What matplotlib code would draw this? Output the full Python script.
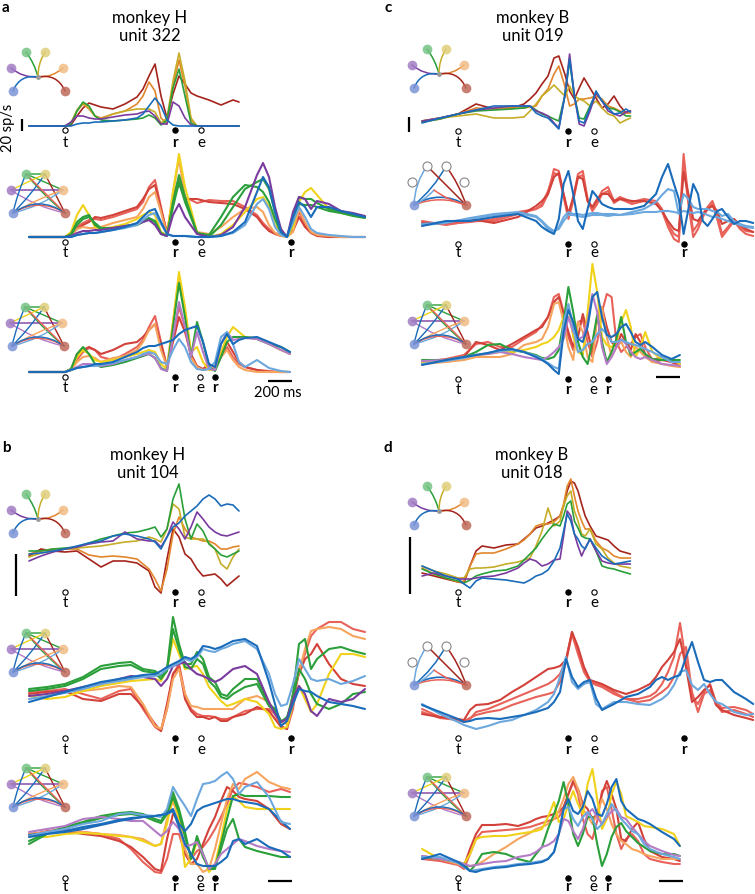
import numpy as np
import matplotlib
matplotlib.use("Agg")
import matplotlib.pyplot as plt
from matplotlib.patches import FancyArrowPatch

plt.rcParams['font.family'] = ['Lato', 'DejaVu Sans']

# ---------------- colours ----------------
DARKRED = '#a5241c'
ORANGE = '#e2862c'
OLIVE = '#c6ad27'
GREEN = '#2a9f3a'
PURPLE = '#7a3b9f'
BLUE = '#1a6cba'
SALMON = '#e8625a'
RED2 = '#d2413a'
LORANGE = '#f6a45e'
YELLOW = '#f0d21a'
LPURPLE = '#b47bc6'
LBLUE = '#6ca8de'

# ---------------- data (time in ms from target onset, rate in px-units) -------
A1_T = [-300, 0, 50, 100, 150, 200, 250, 300, 400, 500, 600, 650, 700, 750, 800, 850, 900, 950, 1000, 1050, 1100, 1200, 1300, 1400, 1450]
A1_DARKRED = [0, 0, 1, 10, 18, 23, 21, 19, 17, 22, 29, 37, 50, 62, 30, 8, 32, 50, 42, 33, 30, 26, 21, 26, 24]
A1_ORANGE = [0, 0, 3, 15, 22, 17, 10, 8, 12, 15, 22, 30, 44, 35, 8, 2, 40, 66, 40, 6, 0, 0, 0, 0, 0]
A1_OLIVE = [0, 0, 3, 16, 23, 18, 10, 7, 12, 15, 17, 17, 17, 14, 3, 8, 45, 73, 45, 8, 0, 0, 0, 0, 0]
A1_GREEN = [0, 0, 2, 15, 24, 20, 10, 6, 5, 6, 7, 8, 11, 8, 1, 6, 38, 57, 30, 3, 0, 0, 0, 0, 0]
A1_PURPLE = [0, 0, 4, 10, 10, 8, 7, 7, 9, 11, 12, 14, 15, 10, 2, 2, 24, 20, 8, 1, 0, 0, 0, 0, 0]
A1_BLUE = [0, 0, 0, 2, 3, 3, 4, 4, 5, 6, 8, 12, 20, 28, 20, 6, 1, 0, 0, 0, 0, 0, 0, 0, 0]

A2_T = [-300, 0, 50, 100, 150, 200, 250, 300, 400, 500, 600, 650, 700, 750, 800, 850, 900, 950, 1000, 1100, 1200, 1300, 1400, 1500, 1600, 1650, 1700, 1750, 1800, 1850, 1900, 1950, 2000, 2050, 2100, 2200, 2300, 2400, 2500]
A2_SALMON = [0, 0, 3, 10, 14, 17, 18, 17, 20, 24, 28, 35, 50, 57, 30, 3, 40, 58, 40, 34, 37, 36, 36, 30, 22, 14, 8, 4, 2, 1, 8, 25, 12, 5, 2, 0, 0, 0, 0]
A2_RED2 = [0, 0, 2, 8, 12, 15, 20, 19, 22, 26, 30, 38, 48, 52, 28, 4, 36, 54, 38, 38, 35, 34, 33, 28, 20, 12, 6, 3, 1, 1, 6, 20, 10, 4, 1, 0, 0, 0, 0]
A2_LORANGE = [0, 0, 2, 8, 10, 9, 9, 10, 14, 17, 20, 28, 40, 45, 25, 2, 45, 78, 40, 5, 3, 10, 20, 28, 30, 25, 12, 4, 1, 0, 5, 28, 15, 5, 2, 1, 0, 0, 0]
A2_YELLOW = [0, 0, 5, 22, 32, 22, 10, 8, 10, 13, 18, 22, 25, 22, 5, 2, 45, 83, 50, 5, 0, 3, 12, 25, 38, 40, 30, 12, 3, 0, 10, 35, 45, 49, 42, 28, 24, 22, 20]
A2_GREEN = [0, 0, 3, 15, 20, 22, 12, 8, 8, 10, 12, 15, 18, 15, 3, 1, 35, 62, 40, 4, 0, 12, 30, 48, 55, 58, 48, 25, 5, 0, 20, 40, 38, 38, 34, 28, 25, 22, 20]
A2_GREEN2 = [0, 0, 2, 12, 18, 20, 14, 9, 9, 11, 13, 16, 19, 16, 4, 1, 30, 55, 35, 4, 2, 20, 40, 52, 50, 45, 35, 18, 4, 0, 15, 33, 32, 32, 30, 26, 24, 21, 19]
A2_PURPLE = [0, 0, 1, 4, 6, 6, 7, 7, 9, 11, 13, 15, 17, 12, 3, 1, 22, 33, 20, 3, 0, 2, 10, 30, 62, 74, 60, 30, 8, 0, 25, 40, 38, 28, 36, 33, 26, 24, 21]
A2_BLUE = [0, 0, 0, 2, 3, 4, 4, 5, 7, 10, 14, 20, 26, 28, 15, 3, 1, 1, 1, 0, 0, 1, 5, 15, 45, 60, 50, 25, 5, 0, 20, 35, 30, 20, 30, 30, 26, 23, 20]
A2_LBLUE = [0, 0, 0, 2, 3, 4, 4, 5, 7, 9, 12, 17, 22, 24, 13, 3, 1, 1, 1, 0, 0, 1, 4, 12, 33, 38, 28, 10, 2, 0, 15, 30, 20, 8, 4, 2, 1, 0, 0]

A3_T = [-300, 0, 50, 100, 150, 200, 250, 300, 400, 500, 600, 650, 700, 750, 800, 850, 900, 950, 1000, 1050, 1100, 1150, 1200, 1250, 1300, 1350, 1400, 1450, 1500, 1600, 1700, 1800, 1875]
A3_SALMON = [0, 0, 3, 12, 20, 24, 22, 15, 12, 18, 25, 32, 45, 56, 30, 5, 35, 65, 45, 15, 5, 2, 6, 3, 15, 25, 15, 8, 5, 2, 1, 0, 0]
A3_DARKRED = [0, 0, 2, 18, 22, 25, 22, 18, 22, 28, 30, 35, 42, 48, 28, 5, 30, 55, 40, 18, 6, 3, 8, 4, 18, 30, 20, 10, 5, 2, 0, 0, 0]
A3_LORANGE = [0, 0, 2, 10, 15, 16, 14, 10, 14, 16, 22, 30, 42, 48, 22, 5, 50, 95, 60, 15, 5, 2, 3, 5, 15, 22, 12, 5, 2, 0, 0, 0, 0]
A3_YELLOW = [0, 0, 3, 15, 22, 18, 12, 10, 12, 15, 18, 20, 22, 20, 8, 3, 50, 100, 65, 20, 25, 10, 2, 2, 20, 35, 45, 40, 35, 34, 28, 22, 18]
A3_GREEN = [0, 0, 3, 18, 25, 18, 8, 5, 7, 10, 14, 16, 18, 14, 4, 1, 45, 89, 55, 15, 50, 30, 5, 1, 15, 30, 35, 35, 35, 33, 28, 25, 20]
A3_LPURPLE = [0, 0, 2, 5, 8, 8, 7, 6, 8, 12, 15, 17, 18, 14, 3, 1, 35, 70, 45, 15, 40, 20, 3, 2, 28, 40, 32, 33, 34, 33, 28, 22, 18]
A3_BLUE = [0, 0, 2, 4, 5, 6, 8, 8, 10, 15, 20, 24, 26, 26, 28, 30, 32, 38, 42, 44, 46, 30, 8, 5, 28, 38, 28, 32, 34, 35, 30, 25, 20]
A3_LBLUE = [0, 0, 2, 4, 5, 6, 6, 7, 9, 12, 15, 18, 20, 18, 10, 8, 22, 33, 25, 10, 3, 2, 3, 10, 35, 40, 28, 10, 5, 12, 4, 1, 0]

B1_T = [-300, -200, -100, 0, 100, 200, 300, 400, 500, 600, 700, 750, 800, 850, 900, 950, 1000, 1050, 1100, 1150, 1200, 1250, 1300, 1350, 1400, 1450]
B1_GREEN = [48, 48, 50, 51, 52, 56, 60, 63, 66, 67, 70, 72, 62, 70, 100, 115, 80, 60, 75, 68, 55, 50, 44, 42, 45, 48]
B1_OLIVE = [42, 46, 48, 50, 51, 52, 53, 55, 57, 58, 62, 60, 57, 70, 95, 90, 62, 60, 60, 60, 56, 50, 35, 30, 42, 50]
B1_ORANGE = [45, 48, 50, 50, 50, 44, 42, 43, 42, 40, 30, 20, 8, 30, 65, 82, 70, 62, 60, 58, 58, 55, 50, 50, 52, 53]
B1_DARKRED = [43, 50, 48, 47, 48, 40, 32, 38, 38, 36, 28, 12, 6, 40, 70, 62, 45, 40, 30, 23, 24, 25, 20, 13, 18, 23]
B1_PURPLE = [38, 43, 47, 50, 52, 55, 57, 58, 67, 60, 58, 58, 52, 62, 77, 70, 60, 72, 87, 80, 72, 67, 64, 63, 65, 67]
B1_BLUE = [45, 46, 48, 50, 53, 56, 58, 63, 65, 63, 60, 57, 50, 62, 72, 76, 83, 88, 93, 100, 104, 100, 93, 95, 94, 88]

B2_T = [-300, -150, 0, 150, 300, 450, 550, 650, 750, 800, 850, 900, 950, 1000, 1050, 1100, 1150, 1200, 1250, 1300, 1350, 1400, 1500, 1600, 1700, 1750, 1800, 1850, 1900, 1950, 2000, 2050, 2100, 2200, 2300, 2400, 2500]
B2_GREEN = [50, 52, 55, 62, 73, 76, 77, 70, 68, 63, 70, 122, 95, 75, 75, 87, 80, 62, 57, 45, 43, 50, 60, 60, 35, 30, 18, 20, 45, 95, 100, 70, 80, 90, 92, 88, 85]
B2_GREEN2 = [48, 50, 53, 60, 70, 73, 74, 68, 66, 60, 68, 110, 90, 72, 70, 80, 75, 58, 52, 42, 40, 45, 52, 55, 33, 28, 17, 22, 40, 70, 60, 45, 35, 30, 35, 45, 47]
B2_YELLOW = [43, 40, 42, 48, 53, 56, 58, 59, 60, 58, 70, 100, 85, 70, 72, 73, 65, 52, 45, 38, 33, 35, 40, 37, 25, 12, 10, 12, 35, 53, 40, 27, 35, 65, 85, 85, 82]
B2_SALMON = [47, 48, 50, 45, 40, 48, 50, 30, 12, 8, 30, 65, 75, 45, 30, 25, 23, 23, 22, 20, 20, 22, 28, 30, 30, 25, 13, 10, 30, 70, 85, 103, 110, 117, 117, 110, 107]
B2_DARKRED = [45, 47, 48, 40, 38, 45, 45, 32, 15, 8, 35, 65, 72, 40, 28, 22, 22, 20, 22, 18, 18, 22, 25, 32, 28, 20, 12, 10, 45, 65, 80, 85, 95, 75, 60, 55, 53]
B2_LORANGE = [43, 45, 47, 48, 50, 53, 52, 35, 13, 10, 30, 60, 70, 45, 33, 32, 30, 30, 30, 30, 30, 30, 40, 43, 37, 25, 17, 15, 45, 67, 90, 108, 110, 112, 110, 103, 100]
B2_PURPLE = [43, 45, 48, 52, 55, 60, 63, 62, 60, 53, 60, 73, 75, 77, 70, 65, 63, 60, 57, 60, 65, 70, 73, 65, 37, 25, 17, 20, 40, 53, 45, 28, 23, 40, 37, 40, 50]
B2_BLUE = [37, 42, 47, 52, 57, 60, 62, 64, 65, 68, 72, 75, 78, 82, 80, 84, 93, 92, 90, 92, 95, 98, 100, 93, 57, 35, 13, 18, 35, 50, 48, 47, 43, 37, 35, 33, 30]
B2_LBLUE = [40, 43, 46, 50, 55, 58, 60, 62, 63, 65, 70, 73, 76, 80, 78, 82, 90, 88, 87, 90, 92, 95, 98, 90, 65, 45, 33, 35, 55, 80, 70, 60, 58, 60, 55, 58, 63]

B3_T = [-300, -150, 0, 150, 300, 450, 550, 650, 750, 800, 850, 900, 950, 1000, 1050, 1100, 1150, 1200, 1250, 1300, 1350, 1400, 1450, 1500, 1600, 1700, 1800, 1875]
B3_LBLUE = [43, 47, 50, 55, 58, 65, 66, 64, 63, 62, 70, 92, 82, 73, 63, 80, 95, 96, 98, 103, 107, 100, 85, 92, 97, 82, 57, 55]
B3_BLUE = [42, 45, 47, 50, 54, 58, 60, 62, 63, 64, 65, 68, 52, 35, 25, 15, 13, 13, 13, 17, 22, 38, 40, 35, 40, 32, 28, 22]
B3_BLUE2 = [44, 46, 48, 52, 55, 59, 61, 62, 63, 64, 66, 70, 55, 48, 55, 68, 72, 74, 76, 78, 80, 80, 78, 77, 75, 70, 58, 50]
B3_SALMON = [43, 48, 50, 47, 45, 40, 30, 17, 7, 6, 20, 45, 45, 25, 20, 28, 32, 40, 50, 62, 75, 90, 96, 95, 92, 87, 90, 87]
B3_DARKRED = [45, 47, 48, 45, 43, 38, 32, 22, 10, 8, 40, 65, 60, 25, 15, 20, 35, 50, 62, 78, 92, 88, 82, 80, 78, 70, 55, 50]
B3_LORANGE = [45, 47, 48, 47, 45, 44, 42, 40, 33, 35, 60, 78, 60, 30, 15, 15, 7, 10, 30, 55, 80, 95, 90, 100, 107, 97, 92, 90]
B3_YELLOW = [43, 42, 45, 46, 45, 43, 42, 38, 33, 35, 55, 83, 60, 12, 20, 37, 25, 7, 15, 40, 70, 83, 78, 72, 70, 70, 70, 70]
B3_GREEN = [35, 45, 52, 57, 63, 66, 67, 65, 60, 58, 68, 87, 70, 47, 20, 43, 25, 10, 10, 35, 60, 83, 85, 83, 83, 83, 82, 82]
B3_GREEN2 = [38, 46, 52, 56, 61, 64, 65, 63, 58, 56, 65, 82, 66, 42, 22, 40, 22, 10, 12, 30, 50, 60, 40, 32, 28, 25, 22, 22]
B3_LPURPLE = [47, 50, 53, 60, 62, 60, 58, 58, 48, 43, 48, 57, 50, 33, 34, 37, 25, 10, 15, 25, 30, 35, 40, 38, 33, 30, 28, 27]

C1_T = [-300, -150, 0, 150, 300, 450, 550, 600, 650, 700, 750, 800, 840, 890, 930, 970, 1010, 1050, 1100, 1150, 1200, 1250, 1300, 1350, 1400, 1437]
C1_DARKRED = [5, 8, 12, 22, 17, 18, 22, 27, 33, 42, 50, 68, 70, 52, 35, 27, 38, 48, 38, 28, 18, 22, 30, 20, 13, 15]
C1_ORANGE = [4, 7, 12, 18, 17, 18, 18, 19, 20, 30, 37, 52, 60, 40, 20, 22, 27, 27, 28, 30, 27, 20, 18, 15, 13, 13]
C1_OLIVE = [5, 8, 10, 12, 8, 8, 9, 15, 22, 30, 35, 41, 36, 30, 40, 30, 27, 25, 20, 25, 18, 12, 10, 3, 6, 8]
C1_GREEN = [4, 7, 12, 15, 16, 17, 18, 20, 16, 12, 10, 7, 5, 30, 65, 30, 8, 7, 20, 33, 25, 18, 17, 14, 10, 10]
C1_PURPLE = [5, 8, 12, 16, 18, 20, 20, 20, 15, 13, 10, 3, -2, 30, 72, 30, 2, 0, 15, 33, 25, 15, 12, 10, 14, 15]
C1_BLUE = [3, 8, 12, 16, 20, 20, 20, 20, 13, 10, 8, 2, -3, 30, 67, 30, 5, 3, 18, 35, 25, 18, 12, 13, 17, 14]

C2_T = [-300, -100, 100, 300, 500, 650, 700, 750, 800, 840, 880, 920, 960, 1000, 1040, 1080, 1120, 1160, 1200, 1250, 1300, 1350, 1450, 1550, 1650, 1700, 1750, 1800, 1840, 1880, 1920, 1960, 2000, 2040, 2080, 2120, 2160, 2200, 2250, 2300, 2350, 2400, 2460]
C2_SALMON = [18, 14, 18, 18, 25, 30, 33, 45, 70, 68, 45, 23, 40, 65, 68, 40, 30, 38, 48, 52, 38, 42, 37, 40, 38, 30, 15, 5, 2, 85, 40, 8, 15, 25, 32, 38, 25, 5, 12, 20, 12, 8, 7]
C2_DARKRED = [16, 16, 20, 16, 22, 33, 38, 45, 62, 66, 45, 25, 42, 62, 60, 38, 32, 40, 45, 45, 38, 40, 38, 38, 35, 28, 18, 10, 8, 67, 45, 20, 18, 25, 30, 33, 28, 15, 18, 20, 14, 10, 7]
C2_SALMON2 = [15, 15, 17, 20, 27, 30, 35, 48, 66, 64, 42, 20, 38, 62, 64, 38, 28, 35, 45, 48, 36, 40, 35, 38, 36, 28, 12, 0, -3, 75, 35, 2, 10, 22, 30, 35, 20, 2, 10, 18, 10, 5, 3]
C2_BLUE = [13, 18, 18, 22, 25, 18, 12, 8, 5, 20, 55, 68, 45, 18, 10, 30, 48, 42, 35, 32, 30, 30, 30, 33, 45, 62, 75, 55, 40, 5, 30, 55, 45, 18, 13, 20, 28, 30, 22, 15, 18, 18, 16]
C2_LBLUE = [15, 17, 20, 24, 26, 22, 17, 10, 7, 12, 22, 27, 25, 25, 24, 25, 26, 26, 25, 25, 25, 24, 27, 30, 37, 44, 50, 48, 25, 45, 40, 32, 30, 30, 30, 28, 27, 23, 25, 18, 15, 13, 12]
C2_LBLUE2 = [14, 16, 21, 25, 27, 23, 18, 12, 8, 10, 18, 24, 24, 23, 22, 23, 24, 24, 24, 23, 24, 24, 25, 27, 27, 28, 28, 27, 26, 28, 27, 26, 27, 26, 24, 22, 22, 20, 18, 16, 14, 12, 11]

C3_T = [-300, -100, 50, 150, 250, 350, 450, 550, 650, 700, 750, 800, 840, 880, 920, 960, 1000, 1040, 1080, 1120, 1160, 1200, 1240, 1280, 1320, 1360, 1400, 1440, 1480, 1520, 1560, 1620, 1700, 1780, 1849]
C3_SALMON = [10, 13, 17, 28, 30, 25, 25, 33, 40, 47, 55, 75, 78, 60, 35, 22, 50, 52, 30, 15, 30, 60, 78, 75, 30, 20, 25, 28, 35, 38, 25, 12, 15, 10, 5]
C3_DARKRED = [8, 12, 15, 30, 27, 22, 28, 35, 42, 45, 55, 70, 75, 58, 40, 25, 35, 58, 40, 20, 55, 65, 45, 30, 25, 38, 30, 22, 38, 30, 18, 10, 12, 10, 8]
C3_LORANGE = [8, 10, 12, 15, 15, 15, 18, 27, 30, 33, 45, 68, 70, 50, 25, 12, 50, 40, 15, 10, 55, 65, 35, 15, 25, 30, 20, 15, 25, 20, 15, 10, 8, 6, 5]
C3_YELLOW = [10, 12, 15, 17, 18, 20, 20, 22, 25, 28, 30, 35, 42, 55, 67, 35, 20, 17, 60, 108, 80, 35, 27, 25, 30, 50, 62, 45, 15, 25, 40, 20, 12, 13, 8]
C3_GREEN = [12, 12, 15, 20, 27, 28, 22, 20, 17, 14, 13, 15, 22, 50, 85, 60, 30, 15, 8, 30, 57, 30, 10, 20, 33, 55, 30, 17, 20, 23, 18, 13, 12, 12, 12]
C3_LPURPLE = [11, 12, 15, 17, 18, 20, 18, 15, 13, 12, 15, 20, 25, 33, 55, 40, 33, 35, 50, 78, 60, 25, 8, 15, 25, 33, 28, 20, 15, 13, 15, 12, 8, 7, 6]
C3_BLUE = [7, 12, 15, 17, 19, 22, 23, 20, 15, 12, 8, 2, -2, 40, 62, 50, 33, 30, 45, 75, 80, 55, 37, 35, 38, 45, 48, 40, 30, 27, 30, 25, 17, 13, 17]
C3_LBLUE = [8, 11, 14, 17, 19, 21, 22, 20, 16, 13, 9, 5, 3, 50, 68, 45, 20, 22, 28, 30, 38, 43, 38, 30, 30, 32, 30, 28, 27, 25, 23, 20, 15, 10, 10]

D1_T = [-300, -200, -100, 0, 50, 100, 150, 200, 300, 400, 500, 550, 600, 650, 700, 750, 800, 850, 880, 910, 940, 970, 1000, 1030, 1060, 1100, 1150, 1200, 1250, 1300, 1350, 1437]
D1_DARKRED = [23, 20, 17, 14, 13, 30, 45, 50, 48, 51, 52, 57, 62, 68, 70, 73, 76, 80, 90, 105, 115, 113, 105, 92, 80, 70, 60, 58, 56, 50, 45, 42]
D1_ORANGE = [28, 22, 18, 14, 15, 30, 42, 43, 43, 47, 52, 56, 62, 70, 72, 72, 74, 80, 92, 110, 117, 100, 85, 75, 67, 67, 55, 48, 45, 40, 38, 38]
D1_OLIVE = [30, 25, 22, 18, 18, 27, 28, 28, 29, 32, 34, 36, 38, 50, 65, 88, 70, 75, 90, 100, 105, 85, 75, 62, 60, 67, 52, 47, 38, 33, 30, 28]
D1_GREEN = [27, 22, 18, 15, 13, 16, 20, 22, 25, 26, 30, 36, 42, 48, 57, 65, 72, 70, 80, 92, 95, 75, 68, 60, 58, 57, 45, 30, 28, 27, 25, 22]
D1_PURPLE = [20, 23, 20, 17, 17, 17, 18, 19, 20, 23, 28, 33, 37, 35, 30, 32, 36, 37, 60, 85, 80, 62, 50, 40, 48, 57, 45, 35, 33, 32, 32, 32]
D1_BLUE = [30, 25, 20, 17, 12, 8, 15, 18, 17, 16, 14, 13, 16, 20, 22, 26, 35, 48, 65, 82, 75, 62, 57, 50, 47, 57, 48, 40, 36, 32, 33, 35]

D2_T = [-300, -150, 0, 50, 100, 150, 250, 350, 450, 550, 650, 750, 800, 850, 900, 950, 1000, 1050, 1100, 1150, 1200, 1300, 1400, 1500, 1600, 1650, 1700, 1750, 1800, 1850, 1900, 1950, 2000, 2050, 2100, 2150, 2200, 2300, 2400, 2460]
D2_DARKRED = [18, 15, 13, 12, 22, 27, 28, 32, 40, 47, 55, 63, 64, 66, 72, 100, 85, 65, 52, 50, 48, 42, 38, 42, 48, 55, 65, 72, 80, 93, 65, 30, 35, 42, 47, 27, 22, 17, 14, 12]
D2_SALMON = [23, 15, 12, 10, 13, 20, 23, 28, 33, 38, 43, 48, 52, 58, 72, 100, 80, 62, 51, 48, 47, 40, 33, 33, 36, 40, 48, 60, 75, 109, 70, 35, 28, 40, 48, 30, 24, 25, 22, 18]
D2_SALMON2 = [20, 14, 12, 11, 14, 17, 20, 22, 27, 31, 35, 38, 40, 50, 70, 98, 78, 60, 50, 47, 45, 38, 33, 30, 32, 36, 40, 45, 55, 78, 85, 40, 20, 38, 42, 28, 20, 22, 18, 15]
D2_BLUE = [27, 20, 13, 10, 11, 13, 14, 13, 15, 17, 20, 24, 30, 40, 73, 55, 45, 50, 52, 34, 22, 28, 35, 38, 45, 52, 55, 52, 55, 57, 75, 90, 70, 52, 50, 52, 52, 40, 33, 28]
D2_LBLUE = [28, 18, 10, 7, 5, 3, 6, 10, 12, 17, 22, 30, 38, 55, 75, 50, 43, 48, 50, 28, 23, 30, 30, 28, 27, 30, 33, 38, 47, 60, 62, 47, 42, 48, 38, 30, 28, 20, 17, 18]

D3_T = [-300, -150, 0, 50, 100, 150, 200, 300, 400, 500, 600, 650, 700, 750, 800, 840, 880, 920, 960, 1000, 1040, 1080, 1120, 1160, 1200, 1240, 1280, 1320, 1360, 1400, 1450, 1500, 1550, 1600, 1700, 1800, 1849]
D3_DARKRED = [23, 20, 16, 13, 30, 45, 54, 54, 55, 53, 57, 60, 62, 63, 65, 67, 72, 85, 98, 90, 75, 70, 60, 65, 85, 98, 85, 70, 40, 38, 50, 57, 40, 28, 22, 20, 18]
D3_SALMON = [20, 18, 14, 10, 25, 40, 47, 48, 49, 50, 52, 54, 56, 58, 60, 62, 70, 85, 97, 85, 60, 45, 40, 58, 88, 92, 70, 45, 30, 40, 45, 38, 25, 20, 17, 15, 15]
D3_YELLOW = [30, 20, 17, 15, 25, 40, 42, 43, 43, 45, 47, 48, 50, 62, 77, 57, 60, 75, 88, 75, 65, 95, 110, 80, 50, 60, 85, 97, 85, 63, 60, 57, 53, 52, 50, 45, 33]
D3_LORANGE = [23, 20, 15, 13, 13, 14, 17, 25, 32, 40, 46, 50, 52, 55, 60, 68, 80, 95, 102, 90, 70, 63, 55, 65, 80, 70, 55, 45, 38, 35, 30, 28, 25, 23, 20, 20, 20]
D3_GREEN = [22, 20, 17, 15, 8, 15, 25, 27, 25, 20, 17, 25, 32, 50, 65, 78, 97, 75, 45, 33, 45, 62, 62, 35, 13, 25, 42, 52, 56, 48, 42, 36, 32, 28, 25, 25, 23]
D3_LPURPLE = [23, 20, 17, 15, 13, 14, 15, 17, 18, 22, 24, 27, 32, 34, 38, 45, 60, 58, 48, 40, 50, 65, 70, 62, 55, 62, 68, 70, 62, 60, 52, 45, 38, 33, 28, 24, 23]
D3_BLUE = [20, 25, 17, 13, 8, 7, 9, 11, 12, 14, 15, 16, 17, 20, 27, 45, 70, 80, 68, 65, 72, 88, 80, 65, 63, 75, 92, 100, 78, 70, 65, 60, 58, 55, 47, 40, 33]
D3_LBLUE = [22, 22, 16, 12, 8, 9, 10, 12, 13, 15, 16, 17, 18, 20, 27, 45, 70, 72, 60, 53, 62, 67, 60, 50, 55, 65, 75, 68, 60, 55, 48, 45, 35, 30, 25, 22, 20]

# event times (ms)
EV_TOP = [('t', 0), ('r', 915), ('e', 1135)]
EV_MID = [('t', 0), ('r', 915), ('e', 1135), ('r', 1880)]
EV_BOT = [('t', 0), ('r', 915), ('e', 1125), ('r', 1250)]

TITLES = {'a': ('monkey H', 'unit 322'), 'b': ('monkey H', 'unit 104'),
          'c': ('monkey B', 'unit 019'), 'd': ('monkey B', 'unit 018')}

# ---------------- layout ----------------
W, H = 755, 895
MS_PER_PX = 200 / 24.0
fig = plt.figure(figsize=(W / 100, H / 100), dpi=100)

ov = fig.add_axes([0, 0, 1, 1])
ov.set_xlim(0, W)
ov.set_ylim(H, 0)
ov.axis('off')


def row_axes(x_t, y_ref):
    # 1 px == MS_PER_PX ms horizontally, 1 px == 1 unit vertically
    x0, x1 = x_t - 62, x_t + 310
    y0, y1 = y_ref - 140, y_ref + 14
    ax = fig.add_axes([x0 / W, 1 - y1 / H, (x1 - x0) / W, (y1 - y0) / H])
    ax.set_xlim((x0 - x_t) * MS_PER_PX, (x1 - x_t) * MS_PER_PX)
    ax.set_ylim(y_ref - y1, y_ref - y0)
    ax.axis('off')
    ax.patch.set_alpha(0)
    return ax


def draw_events(ax, events, y_circ, y_lab):
    # markers and letters go on the overlay, at the row's event times
    for name, t in events:
        filled = name == 'r'
        ov.plot(ax_x(ax, t), y_circ, 'o', ms=3.8, mfc='k' if filled else 'white',
                mec='k', mew=0.8, zorder=5)
        ov.text(ax_x(ax, t), y_lab, name, ha='center', va='center', fontsize=11,
                fontweight='bold' if filled else 'normal')


def ax_x(ax, t):
    # convert a row time (ms) into overlay pixels
    disp = ax.transData.transform((t, 0))
    return ov.transData.inverted().transform(disp)[0]


NODE_XY = {'green': (15, 0), 'yellow': (34, 0), 'purple': (0, 16),
           'orange': (52, 16), 'blue': (2, 39), 'red': (54, 39)}
NODE_COL = {'green': '#74c383', 'yellow': '#e0cf7c', 'purple': '#a17cc4',
            'orange': '#f2bc86', 'blue': '#7b93d6', 'red': '#bf6a5a'}
HUB = (27, 25)
MID = (22, 24)

STAR_EDGES = [('green', GREEN, 0.1), ('yellow', OLIVE, -0.15), ('purple', PURPLE, -0.2),
              ('orange', ORANGE, 0.2), ('blue', BLUE, 0.4), ('red', DARKRED, -0.4)]
NET_EDGES = [('green', 'orange', GREEN, 0.0), ('green', 'red', GREEN, 0.05),
             ('yellow', 'purple', YELLOW, 0.0), ('yellow', 'red', DARKRED, 0.0),
             ('purple', 'orange', PURPLE, 0.0), ('purple', 'red', LPURPLE, 0.1),
             ('green', 'yellow', GREEN, 0.0), ('orange', 'blue', LORANGE, 0.05),
             ('blue', 'green', BLUE, -0.05), ('blue', 'yellow', BLUE, 0.05),
             ('blue', 'orange', LBLUE, 0.1), ('red', 'green', SALMON, 0.0),
             ('red', 'blue', SALMON, 0.3), ('blue', 'red', BLUE, -0.35)]


def icon_axes(ox, oy):
    ax = fig.add_axes([(ox - 7) / W, 1 - (oy + 46) / H, 66 / W, 53 / H])
    ax.set_xlim(-7, 59)
    ax.set_ylim(46, -7)
    ax.axis('off')
    ax.patch.set_alpha(0)
    return ax


def curve(ax, p, q, col, rad, lw=1.1):
    ax.add_patch(FancyArrowPatch(p, q, connectionstyle='arc3,rad=%s' % rad,
                                 arrowstyle='-', color=col, lw=lw,
                                 shrinkA=0, shrinkB=0))


def nodes(ax, names, hollow=()):
    for k in names:
        x, y = NODE_XY[k]
        if k in hollow:
            ax.plot(x, y, 'o', ms=6.5, mfc='white', mec='#888888', mew=0.8)
        else:
            ax.plot(x, y, 'o', ms=7, mfc=NODE_COL[k], mec='none', alpha=0.85)


def icon_star(ox, oy):
    ax = icon_axes(ox, oy)
    for k, col, rad in STAR_EDGES:
        curve(ax, HUB, NODE_XY[k], col, rad)
    ax.plot(*HUB, 'o', ms=2.5, color='#999999')
    nodes(ax, NODE_XY)


def icon_net(ox, oy):
    ax = icon_axes(ox, oy)
    for a, b, col, rad in NET_EDGES:
        curve(ax, NODE_XY[a], NODE_XY[b], col, rad, lw=1.0)
    nodes(ax, NODE_XY)


def icon_pair(ox, oy):
    ax = icon_axes(ox, oy)
    curve(ax, NODE_XY['blue'], NODE_XY['red'], BLUE, -0.3, 1.2)
    curve(ax, NODE_XY['red'], NODE_XY['blue'], SALMON, 0.2, 1.1)
    curve(ax, NODE_XY['blue'], NODE_XY['green'], LBLUE, -0.15)
    curve(ax, NODE_XY['blue'], NODE_XY['yellow'], BLUE, 0.1)
    curve(ax, NODE_XY['red'], NODE_XY['green'], DARKRED, 0.0)
    curve(ax, NODE_XY['red'], NODE_XY['yellow'], DARKRED, 0.08)
    curve(ax, NODE_XY['blue'], MID, LBLUE, 0.1)
    curve(ax, NODE_XY['red'], MID, SALMON, -0.1)
    nodes(ax, NODE_XY, hollow=('green', 'yellow', 'purple', 'orange'))


# rows: (times, traces, x_t, y_ref, circle px, label px, events, icon, icon origin, lw)
ROWS = [
    (A1_T, [(A1_DARKRED, DARKRED), (A1_ORANGE, ORANGE), (A1_OLIVE, OLIVE), (A1_GREEN, GREEN),
            (A1_PURPLE, PURPLE), (A1_BLUE, BLUE)], 65, 127, 131, 143, EV_TOP, icon_star, (11, 53), 1.2),
    (A2_T, [(A2_SALMON, SALMON), (A2_RED2, RED2), (A2_LORANGE, LORANGE), (A2_YELLOW, YELLOW),
            (A2_GREEN2, GREEN), (A2_GREEN, GREEN), (A2_PURPLE, PURPLE), (A2_LBLUE, LBLUE),
            (A2_BLUE, BLUE)], 65, 238, 243, 253, EV_MID, icon_net, (11, 175), 1.5),
    (A3_T, [(A3_SALMON, SALMON), (A3_DARKRED, RED2), (A3_LORANGE, LORANGE), (A3_YELLOW, YELLOW),
            (A3_GREEN, GREEN), (A3_LPURPLE, LPURPLE), (A3_LBLUE, LBLUE), (A3_BLUE, BLUE)],
     65, 373, 378, 388, EV_BOT, icon_net, (10, 308), 1.5),
    (B1_T, [(B1_DARKRED, DARKRED), (B1_ORANGE, ORANGE), (B1_OLIVE, OLIVE), (B1_GREEN, GREEN),
            (B1_PURPLE, PURPLE), (B1_BLUE, BLUE)], 65, 600, 593, 603, EV_TOP, icon_star, (11, 495), 1.2),
    (B2_T, [(B2_SALMON, SALMON), (B2_DARKRED, RED2), (B2_LORANGE, LORANGE), (B2_YELLOW, YELLOW),
            (B2_GREEN2, GREEN), (B2_GREEN, GREEN), (B2_PURPLE, PURPLE), (B2_LBLUE, LBLUE),
            (B2_BLUE, BLUE)], 65, 740, 739, 750, EV_MID, icon_net, (11, 634), 1.5),
    (B3_T, [(B3_SALMON, SALMON), (B3_DARKRED, RED2), (B3_LORANGE, LORANGE), (B3_YELLOW, YELLOW),
            (B3_GREEN2, GREEN), (B3_GREEN, GREEN), (B3_LPURPLE, LPURPLE), (B3_BLUE2, BLUE),
            (B3_LBLUE, LBLUE), (B3_BLUE, BLUE)], 65, 880, 879, 887, EV_BOT, icon_net, (11, 769), 1.5),
    (C1_T, [(C1_DARKRED, DARKRED), (C1_ORANGE, ORANGE), (C1_OLIVE, OLIVE), (C1_GREEN, GREEN),
            (C1_PURPLE, PURPLE), (C1_BLUE, BLUE)], 458, 127, 132, 143, EV_TOP, icon_star, (412, 50), 1.2),
    (C2_T, [(C2_SALMON2, SALMON), (C2_SALMON, SALMON), (C2_DARKRED, RED2), (C2_LBLUE2, LBLUE),
            (C2_LBLUE, LBLUE), (C2_BLUE, BLUE)], 458, 240, 245, 253, EV_MID, icon_pair, (412, 167), 1.5),
    (C3_T, [(C3_SALMON, SALMON), (C3_DARKRED, RED2), (C3_LORANGE, LORANGE), (C3_YELLOW, YELLOW),
            (C3_GREEN, GREEN), (C3_LPURPLE, LPURPLE), (C3_LBLUE, LBLUE), (C3_BLUE, BLUE)],
     458, 373, 380, 390, EV_BOT, icon_net, (412, 306), 1.5),
    (D1_T, [(D1_DARKRED, DARKRED), (D1_ORANGE, ORANGE), (D1_OLIVE, OLIVE), (D1_GREEN, GREEN),
            (D1_PURPLE, PURPLE), (D1_BLUE, BLUE)], 458, 597, 593, 603, EV_TOP, icon_star, (412, 487), 1.2),
    (D2_T, [(D2_SALMON2, SALMON), (D2_SALMON, SALMON), (D2_DARKRED, RED2), (D2_LBLUE, LBLUE),
            (D2_BLUE, BLUE)], 458, 733, 739, 750, EV_MID, icon_pair, (412, 647), 1.5),
    (D3_T, [(D3_SALMON, SALMON), (D3_DARKRED, RED2), (D3_LORANGE, LORANGE), (D3_YELLOW, YELLOW),
            (D3_GREEN, GREEN), (D3_LPURPLE, LPURPLE), (D3_LBLUE, LBLUE), (D3_BLUE, BLUE)],
     458, 880, 879, 887, EV_BOT, icon_net, (412, 778), 1.5),
]

for T, traces, x_t, y_ref, y_c, y_l, events, icon, origin, lw in ROWS:
    ax = row_axes(x_t, y_ref)
    for vals, col in traces:
        ax.plot(T, vals, color=col, lw=lw, solid_joinstyle='round',
                solid_capstyle='round', clip_on=False)
    draw_events(ax, events, y_c, y_l)
    icon(*origin)

# ---------------- scale bars & text ----------------
BAR_PX = {'a': (22, 120, 12), 'b': (16, 555, 42), 'c': (409, 118, 15), 'd': (410, 538, 57)}
for key, (x, y, L) in BAR_PX.items():
    ov.plot([x, x], [y, y + L], color='k', lw=1.6, solid_capstyle='butt')
TIME_BAR = [(268, 382), (268, 882), (656, 378), (659, 882)]
for x, y in TIME_BAR:
    ov.plot([x, x + 200 / MS_PER_PX], [y, y], color='k', lw=1.6, solid_capstyle='butt')
ov.text(278, 393, '200 ms', ha='center', va='center', fontsize=10.5)
ov.text(8, 128, '20 sp/s', ha='center', va='center', fontsize=10.5, rotation=90)

for key, (x, y) in {'a': (6, 8), 'b': (6, 448), 'c': (388, 8), 'd': (388, 448)}.items():
    ov.text(x, y, key, ha='center', va='center', fontsize=11, fontweight='bold')
for key, (x, y) in {'a': (150, 18), 'b': (148, 455), 'c': (533, 18), 'd': (532, 455)}.items():
    l1, l2 = TITLES[key]
    ov.text(x, y, l1, ha='center', va='center', fontsize=12)
    ov.text(x, y + 18, l2, ha='center', va='center', fontsize=12)

fig.savefig('out.png', dpi=100)
